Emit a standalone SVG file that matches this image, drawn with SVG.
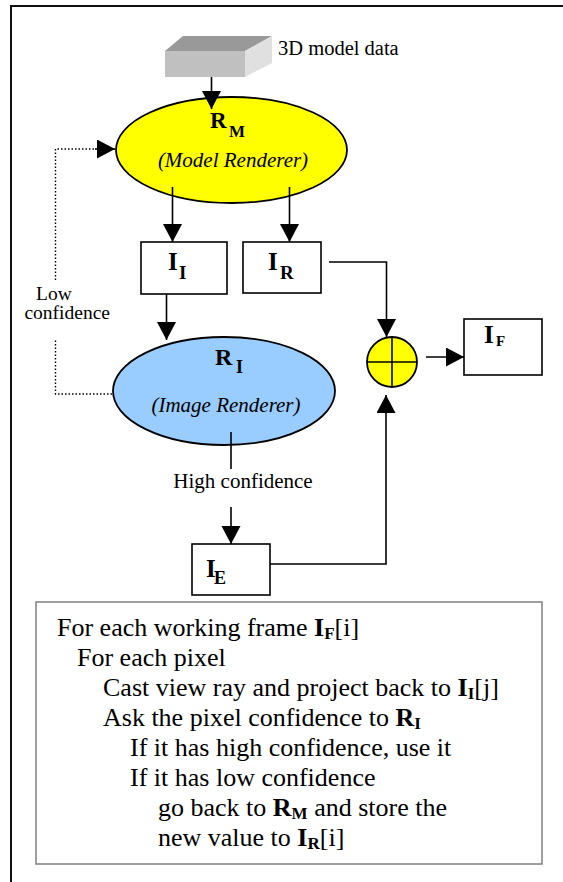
<svg xmlns="http://www.w3.org/2000/svg" width="563" height="882" viewBox="0 0 563 882">
<style>
  text { font-family: 'Liberation Serif', 'DejaVu Serif', serif; fill: #000; }
  .b { font-weight: bold; }
  .it { font-style: italic; }
  .ln { stroke: #000; stroke-width: 1.6; fill: none; }
  .dot { stroke: #000; stroke-width: 1.4; fill: none; stroke-dasharray: 1.5 2; }
  .box { fill: #fff; stroke: #000; stroke-width: 1.6; }
</style>
<defs>
  <marker id="ah" markerUnits="userSpaceOnUse" markerWidth="20" markerHeight="20" refX="18" refY="9.5" orient="auto">
    <path d="M0,0 L18,9.5 L0,19 Z" fill="#000"/>
  </marker>
</defs>
<rect width="563" height="882" fill="#fff"/>
<path d="M11,882 L11,6 L563,6" fill="none" stroke="#111" stroke-width="2"/>

<g id="model-data">
  <polygon points="165,51 183,36 272,36 245,51" fill="#999999"/>
  <polygon points="245,51 272,36 272,63 245,77" fill="#e0e0e0"/>
  <rect x="165" y="51" width="80" height="26" fill="#c0c0c0"/>
  <text x="278" y="55" font-size="20.5">3D model data</text>
</g>

<g id="RM">
  <ellipse cx="231.5" cy="150" rx="115.5" ry="53" fill="#ffff00" stroke="#000" stroke-width="1.8"/>
  <text x="210" y="128" font-size="23" class="b">R</text>
  <text x="229" y="137" font-size="17" class="b">M</text>
  <text x="233" y="167" font-size="21" class="it" text-anchor="middle">(Model Renderer)</text>
</g>

<g id="II">
  <rect class="box" x="141" y="242" width="86" height="52"/>
  <text x="168" y="270" font-size="25" class="b">I</text>
  <text x="179" y="279" font-size="19" class="b">I</text>
</g>

<g id="IR">
  <rect class="box" x="243" y="242" width="78" height="51"/>
  <text x="268" y="270" font-size="25" class="b">I</text>
  <text x="280" y="279" font-size="19" class="b">R</text>
</g>

<g id="RI">
  <ellipse cx="224" cy="391" rx="111" ry="54" fill="#99ccff" stroke="#000" stroke-width="1.8"/>
  <text x="215" y="365" font-size="24" class="b">R</text>
  <text x="236" y="373" font-size="18" class="b">I</text>
  <text x="226" y="412" font-size="21" class="it" text-anchor="middle">(Image Renderer)</text>
</g>

<g id="sum">
  <circle cx="392" cy="362" r="25" fill="#ffff00" stroke="#000" stroke-width="1.8"/>
  <line class="ln" x1="367" y1="362" x2="417" y2="362"/>
  <line class="ln" x1="392" y1="337" x2="392" y2="387"/>
</g>

<g id="IF">
  <rect class="box" x="464" y="319" width="78" height="56"/>
  <text x="484" y="343" font-size="25" class="b">I</text>
  <text x="496" y="346" font-size="15" class="b">F</text>
</g>

<g id="IE">
  <rect class="box" x="192" y="544" width="78" height="51"/>
  <text x="206" y="577" font-size="25" class="b">I</text>
  <text x="214" y="584" font-size="18" class="b">E</text>
</g>

<g id="labels">
  <text x="36" y="300" font-size="19.5">Low</text>
  <text x="110" y="319" font-size="19.5" text-anchor="end">confidence</text>
  <text x="243" y="488" font-size="21" text-anchor="middle">High confidence</text>
</g>

<g id="connectors">
  <line class="ln" x1="211.5" y1="77" x2="211.5" y2="109" marker-end="url(#ah)"/>
  <line class="ln" x1="172.5" y1="187" x2="172.5" y2="242" marker-end="url(#ah)"/>
  <line class="ln" x1="289.5" y1="187" x2="289.5" y2="242" marker-end="url(#ah)"/>
  <line class="ln" x1="166.5" y1="294" x2="166.5" y2="340" marker-end="url(#ah)"/>
  <polyline class="ln" points="329,262 386.5,262 386.5,337" marker-end="url(#ah)"/>
  <line class="ln" x1="426" y1="357" x2="464" y2="357" marker-end="url(#ah)"/>
  <line class="ln" x1="231" y1="432" x2="231" y2="469"/>
  <line class="ln" x1="231" y1="507" x2="231" y2="544" marker-end="url(#ah)"/>
  <polyline class="ln" points="270,564 386,564 386,395" marker-end="url(#ah)"/>
  <polyline class="dot" points="112,394 55.5,394 55.5,340"/>
  <polyline class="dot" points="55.5,280 55.5,149 96,149"/>
  <line class="ln" x1="95" y1="149" x2="115" y2="149" stroke-width="0" marker-end="url(#ah)"/>
</g>

<g id="algorithm">
  <rect x="36" y="602" width="506" height="262" fill="#fff" stroke="#888" stroke-width="1.6"/>
  <text font-size="26">
    <tspan x="57" y="636">For each working frame <tspan class="b">I</tspan><tspan class="b" font-size="17" dy="3">F</tspan><tspan dy="-3">[i]</tspan></tspan>
    <tspan x="77" y="666">For each pixel</tspan>
    <tspan x="103" y="696">Cast view ray and project back to <tspan class="b">I</tspan><tspan class="b" font-size="17" dy="3">I</tspan><tspan dy="-3">[j]</tspan></tspan>
    <tspan x="103" y="726">Ask the pixel confidence to <tspan class="b">R</tspan><tspan class="b" font-size="17" dy="3">I</tspan></tspan>
    <tspan x="130" y="756">If it has high confidence, use it</tspan>
    <tspan x="130" y="786">If it has low confidence</tspan>
    <tspan x="158" y="816">go back to <tspan class="b">R</tspan><tspan class="b" font-size="17" dy="3">M</tspan><tspan dy="-3"> and store the</tspan></tspan>
    <tspan x="158" y="846">new value to <tspan class="b">I</tspan><tspan class="b" font-size="17" dy="3">R</tspan><tspan dy="-3">[i]</tspan></tspan>
  </text>
</g>
</svg>
